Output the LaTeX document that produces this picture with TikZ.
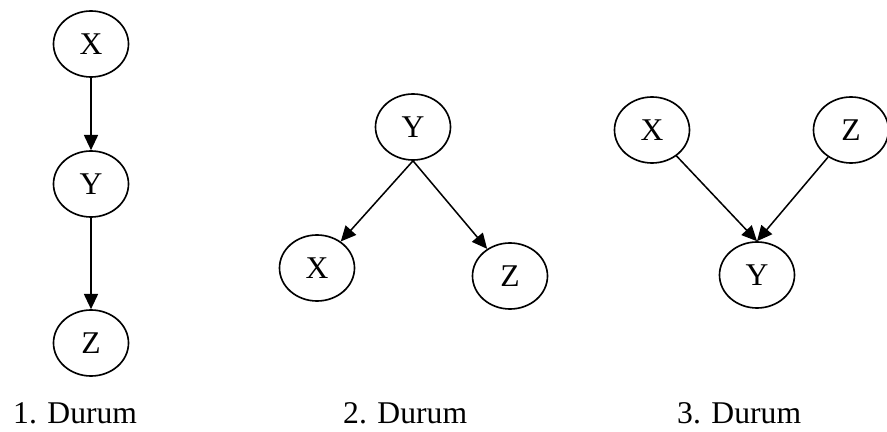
\documentclass[tikz,border=0pt]{standalone}
\usepackage{fontspec}
\setmainfont{Liberation Serif}
\usetikzlibrary{arrows.meta, shapes.geometric, positioning}
\tikzset{
  var/.style={
    ellipse, draw=black, fill=white,
    line width=1.4pt, inner sep=0pt,
    minimum width=2.25cm, minimum height=1.98cm,
    font=\fontsize{27}{32}\selectfont,
  },
  arr/.style={
    -{Triangle[length=13pt,width=12pt]},
    line width=1.3pt, color=black,
  },
  caseLbl/.style={
    anchor=base west, inner sep=0pt,
    font=\fontsize{27}{32}\selectfont,
  },
}

\begin{document}
\begin{tikzpicture}[x=0.03cm,y=-0.03cm]
  \useasboundingbox (0,0) rectangle (887,432);
  % chain
  \node[var] (x1) at (91,44)  {X};
  \node[var] (y1) at (91,184) {Y};
  \node[var] (z1) at (91,343) {Z};
  \draw[arr] (x1) -- (y1); \draw[arr] (y1) -- (z1);
  % fork
  \node[var] (y2) at (413,127) {Y};
  \node[var] (x2) at (317,268) {X};
  \node[var] (z2) at (510,276) {Z};
  \draw[arr] (y2.south) -- (x2); \draw[arr] (y2.south) -- (z2);
  % collider
  \node[var] (x3) at (652,130) {X};
  \node[var] (z3) at (851,130) {Z};
  \node[var] (y3) at (757,275) {Y};
  \draw[arr] (x3) -- (y3.north); \draw[arr] (z3) -- (y3.north);
  % captions
  \node[caseLbl] (c1) at (13,424)  {1. Durum};
  \node[caseLbl] (c2) at (343,424) {2. Durum};
  \node[caseLbl] (c3) at (677,424) {3. Durum};
\end{tikzpicture}
\end{document}
